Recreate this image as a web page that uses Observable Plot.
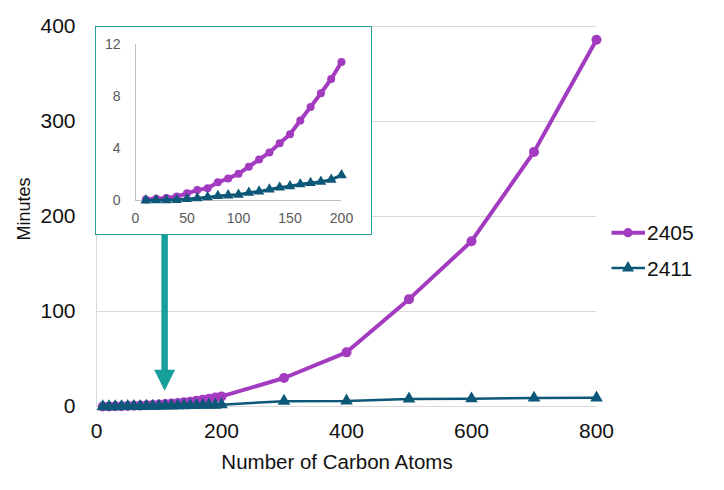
<!DOCTYPE html>
<html>
<head>
<meta charset="utf-8">
<script src="https://cdn.jsdelivr.net/npm/d3@7"></script>
<script src="https://cdn.jsdelivr.net/npm/@observablehq/plot@0.6"></script>
<style>
  body { margin: 0; background: #fff; font-family: "Liberation Sans", Arial, sans-serif; }
  #wrap { position: relative; width: 724px; height: 490px; overflow: hidden; background: #fff; }
  #main { position: absolute; left: 0; top: 0; }
  #inset { position: absolute; left: 95px; top: 26px; width: 277px; height: 209px; background: #fff;
           outline: 1.4px solid #2A9D98; outline-offset: -1.4px; }
  #inset svg { position: absolute; left: 0; top: 0; }
  .title { position: absolute; line-height: 1; color: #111; white-space: nowrap; }
  #legend { position: absolute; left: 600px; top: 210px; }
</style>
</head>
<body>
<div id="wrap"></div>
<script>
// ---------- data ----------
const atomsSmall = [10, 20, 30, 40, 50, 60, 70, 80, 90, 100, 110, 120, 130, 140, 150, 160, 170, 180, 190, 200];
const min2405Small = [0.08, 0.13, 0.2, 0.3, 0.55, 0.8, 0.95, 1.4, 1.7, 2.05, 2.6, 3.15, 3.7, 4.4, 5.1, 6.15, 7.2, 8.25, 9.35, 10.65];
const min2411Small = [0.0, 0.02, 0.03, 0.05, 0.12, 0.18, 0.25, 0.35, 0.4, 0.45, 0.6, 0.7, 0.85, 1.0, 1.1, 1.25, 1.35, 1.45, 1.6, 1.95];
const atomsLarge = [300, 400, 500, 600, 700, 800];
const min2405Large = [30, 57, 113, 174, 268, 386];
const min2411Large = [5.6, 5.9, 8.0, 8.2, 9.0, 9.2];

const seriesNames = ["2405", "2411"];
const seriesColors = ["#A33BC0", "#0D5878"];

const xTicks = [0, 200, 400, 600, 800];
const yTicks = [0, 100, 200, 300, 400];
const insetXTicks = [0, 50, 100, 150, 200];
const insetYTicks = [0, 4, 8, 12];

const xTitle = "Number of Carbon Atoms";
const yTitle = "Minutes";

// annotation arrow (data units of the main chart)
const arrowAnno = [{x: 109, yFrom: 180, yHeadBase: 37.5, yTo: 16.5}];
const arrowColor = "#17A09B";

// ---------- build tables ----------
const allAtoms = atomsSmall.concat(atomsLarge);
const all2405 = min2405Small.concat(min2405Large);
const all2411 = min2411Small.concat(min2411Large);
const main2405 = allAtoms.map((x, i) => ({x, y: all2405[i]}));
const main2411 = allAtoms.map((x, i) => ({x, y: all2411[i]}));
const inset2405 = atomsSmall.map((x, i) => ({x, y: min2405Small[i]}));
const inset2411 = atomsSmall.map((x, i) => ({x, y: min2411Small[i]}));

const font = "'Liberation Sans', Arial, sans-serif";
const wrap = document.getElementById("wrap");

// downward arrow head symbol with tip at the anchor point
const arrowHead = {
  draw(ctx) {
    ctx.moveTo(-10.5, -21);
    ctx.lineTo(10.5, -21);
    ctx.lineTo(0, 0);
    ctx.closePath();
  }
};

// ---------- main chart ----------
const main = Plot.plot({
  width: 724,
  height: 490,
  marginLeft: 96,
  marginRight: 128,
  marginTop: 26,
  marginBottom: 84,
  style: {fontFamily: font, fontSize: "21px", color: "#111", background: "transparent"},
  x: {domain: [0, 800], ticks: xTicks, tickSize: 0, tickPadding: 17, label: null, tickFormat: d => String(d)},
  y: {domain: [0, 400], ticks: yTicks, tickSize: 0, tickPadding: 21, label: null, tickFormat: d => String(d)},
  marks: [
    Plot.gridY(yTicks.filter(d => d > 0), {stroke: "#d9d9d9", strokeOpacity: 1, strokeWidth: 1}),
    Plot.ruleY([0], {stroke: "#d9d9d9", strokeWidth: 1}),
    Plot.ruleX([0], {stroke: "#d9d9d9", strokeWidth: 1}),
    Plot.ruleX(arrowAnno, {x: "x", y1: "yFrom", y2: "yHeadBase", stroke: arrowColor, strokeWidth: 6.5}),
    Plot.dot(arrowAnno, {x: "x", y: "yTo", symbol: arrowHead, fill: arrowColor, stroke: "none"}),
    Plot.line(main2405, {x: "x", y: "y", stroke: seriesColors[0], strokeWidth: 4}),
    Plot.dot(main2405, {x: "x", y: "y", r: 5, fill: seriesColors[0], stroke: "none"}),
    Plot.line(main2411, {x: "x", y: "y", stroke: seriesColors[1], strokeWidth: 2.5}),
    Plot.dot(main2411, {x: "x", y: "y", symbol: "triangle", r: 4.7, fill: seriesColors[1], stroke: "none"})
  ]
});
main.id = "main";
wrap.appendChild(main);

// ---------- inset chart ----------
const insetDiv = document.createElement("div");
insetDiv.id = "inset";
wrap.appendChild(insetDiv);

const inset = Plot.plot({
  width: 277,
  height: 209,
  marginLeft: 40,
  marginRight: 31,
  marginTop: 18,
  marginBottom: 35,
  style: {fontFamily: font, fontSize: "14px", color: "#595959", background: "transparent"},
  x: {domain: [0, 200], ticks: insetXTicks, tickSize: 0, tickPadding: 13, label: null},
  y: {domain: [0, 12], ticks: insetYTicks, tickSize: 0, tickPadding: 15, label: null},
  marks: [
    Plot.ruleY([0], {stroke: "#bfbfbf", strokeWidth: 1}),
    Plot.ruleX([0], {stroke: "#bfbfbf", strokeWidth: 1}),
    Plot.line(inset2405, {x: "x", y: "y", stroke: seriesColors[0], strokeWidth: 4}),
    Plot.dot(inset2405, {x: "x", y: "y", r: 4, fill: seriesColors[0], stroke: "none"}),
    Plot.line(inset2411, {x: "x", y: "y", stroke: seriesColors[1], strokeWidth: 3}),
    Plot.dot(inset2411, {x: "x", y: "y", symbol: "triangle", r: 4, fill: seriesColors[1], stroke: "none"})
  ]
});
insetDiv.appendChild(inset);

// ---------- axis titles ----------
const xt = document.createElement("div");
xt.className = "title";
xt.textContent = xTitle;
xt.style.fontSize = "20.5px";
xt.style.left = "337px";
xt.style.top = "452px";
xt.style.transform = "translateX(-50%)";
wrap.appendChild(xt);

const yt = document.createElement("div");
yt.className = "title";
yt.textContent = yTitle;
yt.style.fontSize = "18px";
yt.style.left = "24px";
yt.style.top = "209px";
yt.style.transform = "translate(-50%, -50%) rotate(-90deg)";
wrap.appendChild(yt);

// ---------- legend ----------
const leg = d3.select(wrap).append("svg")
  .attr("id", "legend")
  .attr("width", 124).attr("height", 80)
  .style("font-family", font);
const rowsY = [22.7, 58];
seriesNames.forEach((name, i) => {
  const g = leg.append("g").attr("transform", `translate(0,${rowsY[i]})`);
  g.append("line").attr("x1", 11.5).attr("x2", 45).attr("y1", 0).attr("y2", 0)
    .attr("stroke", seriesColors[i]).attr("stroke-width", i === 0 ? 4 : 2.5);
  if (i === 0) {
    g.append("circle").attr("cx", 28).attr("cy", 0).attr("r", 4.6).attr("fill", seriesColors[i]);
  } else {
    g.append("path").attr("transform", "translate(28,0)")
      .attr("d", d3.symbol(d3.symbolTriangle, Math.PI * 4.5 * 4.5)()).attr("fill", seriesColors[i]);
  }
  g.append("text").attr("x", 47).attr("y", 0).attr("dy", "0.36em")
    .attr("font-size", 21).attr("fill", "#111").text(name);
});
</script>
</body>
</html>
